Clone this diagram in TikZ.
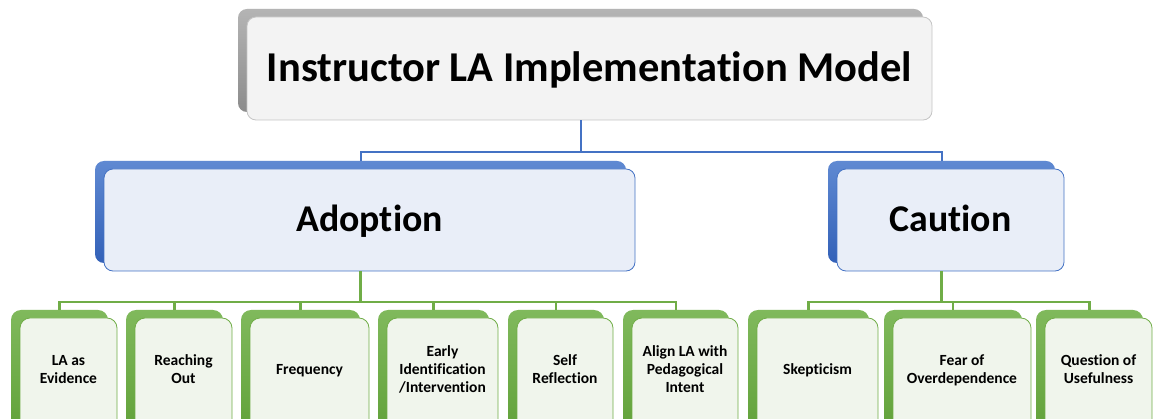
\documentclass[tikz,border=0pt]{standalone}
\usepackage{fontspec}
\setmainfont{Carlito}[Ligatures=NoCommon]
\usetikzlibrary{shadows}
\definecolor{graytop}{HTML}{B4B4B4}
\definecolor{graybot}{HTML}{8C8C8C}
\definecolor{topfill}{HTML}{F3F3F3}
\definecolor{topline}{HTML}{C4C4C4}
\definecolor{bluetop}{HTML}{5F89D2}
\definecolor{bluebot}{HTML}{3361B8}
\definecolor{bluefill}{HTML}{E9EEF8}
\definecolor{blueline}{HTML}{4472C4}
\definecolor{greentop}{HTML}{80B95C}
\definecolor{greenbot}{HTML}{62A23A}
\definecolor{greenfill}{HTML}{F0F5EC}
\definecolor{greenline}{HTML}{70AD47}
\begin{document}
\begin{tikzpicture}[x=1pt,y=-1pt,
  box/.style={rounded corners=9pt, inner sep=0pt, align=center, line width=0.8pt},
  modelbox/.style={box, minimum width=685pt, minimum height=103pt, fill=topfill, draw=topline,
    font=\fontsize{42.5}{50}\selectfont\bfseries, text height=29pt, text depth=2pt,
    copy shadow={shadow xshift=-9pt, shadow yshift=8pt, draw=none, top color=graytop, bottom color=graybot}},
  groupbox/.style={box, minimum height=102pt, fill=bluefill, draw=blueline,
    font=\fontsize{37.8}{45}\selectfont\bfseries, text height=26pt, text depth=2pt,
    copy shadow={shadow xshift=-9pt, shadow yshift=8pt, draw=none, top color=bluetop, bottom color=bluebot}},
  leaf/.style={box, rounded corners=10pt, minimum height=120pt, text depth=17pt, fill=greenfill, draw=greenline,
    font=\fontsize{15.5}{18}\selectfont\bfseries,
    copy shadow={shadow xshift=-9pt, shadow yshift=8pt, draw=none, top color=greentop, bottom color=greenbot}},
  bluelink/.style={draw=blueline, line width=2pt},
  greenlink/.style={draw=greenline, line width=2.5pt}]
\useasboundingbox (0,0) rectangle (1153,419);
\clip (0,0) rectangle (1153,419);
\node[modelbox] (model) at (589.5,68.5) {Instructor LA Implementation Model};
\node[groupbox, minimum width=531pt] (adopt) at (369.5,220) {Adoption};
\node[groupbox, minimum width=227pt] (caution) at (950.5,220) {Caution};
\node[leaf, minimum width=97pt] (evid) at (68.5,378) {LA as\\Evidence};
\node[leaf, minimum width=97pt] (reach) at (183.5,378) {Reaching\\Out};
\node[leaf, minimum width=119pt] (freq) at (309.5,378) {Frequency};
\node[leaf, minimum width=111pt] (early) at (442.5,378) {Early\\Identification\\/Intervention};
\node[leaf, minimum width=96pt] (self) at (565,378) {Self\\Reflection};
\node[leaf, minimum width=106pt] (align) at (685,378) {Align LA with\\Pedagogical\\Intent};
\node[leaf, minimum width=121pt] (skept) at (817.5,378) {Skepticism};
\node[leaf, minimum width=138pt] (fear) at (962,378) {Fear of\\Overdependence};
\node[leaf, minimum width=107pt] (quest) at (1098.5,378) {Question of\\Usefulness};
\draw[bluelink] ([xshift=-9pt]model.south) -- ++(0,32) coordinate (mbus);
\draw[bluelink] ([xshift=-9pt,yshift=8pt]adopt.north) |- (mbus) -| ([xshift=-9pt,yshift=8pt]caution.north);
\draw[greenlink] ([xshift=-9pt]adopt.south) -- ++(0,30.5) coordinate (abus);
\draw[greenlink] ([xshift=-9pt]caution.south) -- ++(0,30.5) coordinate (cbus);
\foreach \leaf in {evid,reach,freq,early,self,align}
  \draw[greenlink] (abus) -| ([xshift=-9pt,yshift=8pt]\leaf.north);
\foreach \leaf in {skept,fear,quest}
  \draw[greenlink] (cbus) -| ([xshift=-9pt,yshift=8pt]\leaf.north);
\end{tikzpicture}
\end{document}
